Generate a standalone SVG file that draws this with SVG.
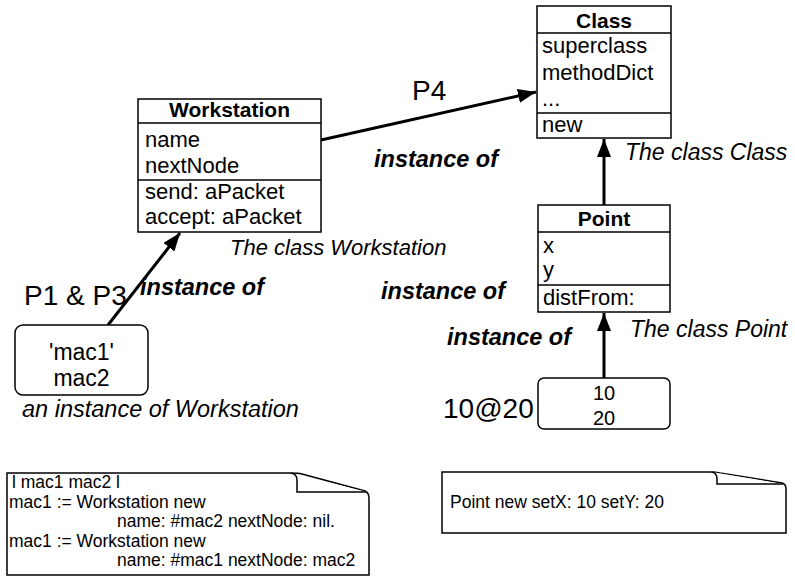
<svg xmlns="http://www.w3.org/2000/svg" width="795" height="579" viewBox="0 0 795 579">
<style>
text{font-family:"Liberation Sans",Arial,sans-serif;fill:#000}
.box{fill:#fff;stroke:#000;stroke-width:1.5}
.ln{stroke:#000;stroke-width:1.5}
.hd{font-weight:bold;font-size:21px}
.bd{font-size:22px}
.cap{font-style:italic;font-size:23px}
.inst{font-style:italic;font-weight:bold;font-size:23.5px}
.big{font-size:28px}
.note{font-size:17.5px}
.con{stroke:#000;stroke-width:3;fill:none}
.nb{fill:#fff;stroke:#000;stroke-width:1.5}
</style>
<defs>
<marker id="ah" viewBox="0 0 18 14" refX="18" refY="7" markerWidth="18" markerHeight="14" markerUnits="userSpaceOnUse" orient="auto">
<path d="M0,0 L18,7 L0,14 Z" fill="#000"/>
</marker>
</defs>

<g id="connectors">
<line class="con" x1="321" y1="140" x2="536" y2="92" marker-end="url(#ah)"/>
<line class="con" x1="604" y1="205" x2="604" y2="139" marker-end="url(#ah)"/>
<line class="con" x1="604" y1="378" x2="604" y2="313" marker-end="url(#ah)"/>
<line class="con" x1="108" y1="325" x2="180" y2="233" marker-end="url(#ah)"/>
</g>

<g id="class-Class">
<rect class="box" x="537" y="6" width="134" height="132"/>
<line class="ln" x1="537" y1="33" x2="671" y2="33"/>
<line class="ln" x1="537" y1="113" x2="671" y2="113"/>
<text class="hd" x="604" y="28" text-anchor="middle">Class</text>
<text class="bd" x="542" y="53">superclass</text>
<text class="bd" x="542" y="80">methodDict</text>
<text class="bd" x="542" y="106">...</text>
<text class="bd" x="542" y="132">new</text>
<text class="cap" x="625" y="160">The class Class</text>
</g>

<g id="class-Workstation">
<rect class="box" x="138" y="99" width="183" height="133"/>
<line class="ln" x1="138" y1="123" x2="321" y2="123"/>
<line class="ln" x1="138" y1="180" x2="321" y2="180"/>
<text class="hd" x="229.5" y="117" text-anchor="middle">Workstation</text>
<text class="bd" x="145" y="147">name</text>
<text class="bd" x="145" y="173">nextNode</text>
<text class="bd" x="145" y="199">send: aPacket</text>
<text class="bd" x="145" y="224">accept: aPacket</text>
<text class="cap" x="230" y="255" style="font-size:22px">The class Workstation</text>
</g>

<g id="class-Point">
<rect class="box" x="538" y="205" width="132" height="107"/>
<line class="ln" x1="538" y1="232" x2="670" y2="232"/>
<line class="ln" x1="538" y1="285" x2="670" y2="285"/>
<text class="hd" x="604" y="226" text-anchor="middle">Point</text>
<text class="bd" x="543" y="253">x</text>
<text class="bd" x="543" y="277">y</text>
<text class="bd" x="543" y="305">distFrom:</text>
<text class="cap" x="630" y="337">The class Point</text>
</g>

<g id="instance-mac1">
<rect class="box" x="15" y="325" width="133" height="70" rx="8"/>
<text x="81.5" y="360" text-anchor="middle" style="font-size:23px">'mac1'</text>
<text x="81.5" y="386" text-anchor="middle" style="font-size:23px">mac2</text>
<text class="cap" x="22" y="417" style="font-size:23.5px">an instance of Workstation</text>
</g>

<g id="instance-point">
<rect class="box" x="538" y="378" width="132" height="51" rx="6"/>
<text x="604" y="400" text-anchor="middle" style="font-size:20px">10</text>
<text x="604" y="425" text-anchor="middle" style="font-size:20px">20</text>
<text class="big" x="443" y="418">10@20</text>
</g>

<g id="labels">
<text class="big" x="412" y="100">P4</text>
<text class="big" x="24" y="305">P1 &amp; P3</text>
<text class="inst" x="374" y="167">instance of</text>
<text class="inst" x="381" y="299">instance of</text>
<text class="inst" x="140" y="295">instance of</text>
<text class="inst" x="447" y="345">instance of</text>
</g>

<g id="note-workstation">
<path class="nb" d="M7,473 L290,473 Q298,473 302,474 L365,491 Q369,493 369,498 L369,575 L7,575 Z"/>
<path class="nb" d="M291,473 Q297,474 297,480 L297,492 L367,492"/>
<text class="note" x="12" y="488">l mac1 mac2 l</text>
<text class="note" x="9" y="508">mac1 := Workstation new</text>
<text class="note" x="117" y="527">name: #mac2 nextNode: nil.</text>
<text class="note" x="9" y="547">mac1 := Workstation new</text>
<text class="note" x="117" y="566">name: #mac1 nextNode: mac2</text>
</g>

<g id="note-point">
<path class="nb" d="M442,472 L710,472 Q716,472 720,473 L782,483 Q786,484 786,489 L786,533 L442,533 Z"/>
<path class="nb" d="M712,472 Q717,473 717,479 L717,484 L783,484"/>
<text class="note" x="450" y="508">Point new setX: 10 setY: 20</text>
</g>
</svg>
